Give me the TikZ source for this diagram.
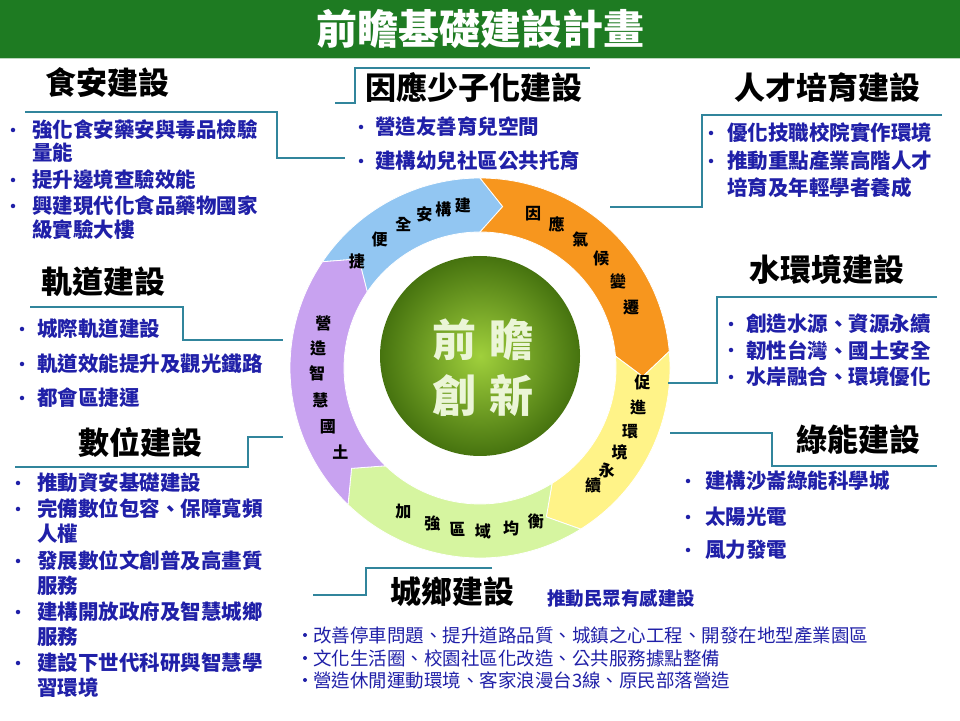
\documentclass[tikz,border=0pt]{standalone}
\usepackage{fontspec}
\setmainfont{Noto Sans CJK TC}
\definecolor{hdr}{HTML}{1E7B22}
\definecolor{txtb}{HTML}{2020A8}
\definecolor{ln}{HTML}{31859C}
\definecolor{cblue}{HTML}{92C6F2}
\definecolor{corange}{HTML}{F7961E}
\definecolor{cyellow}{HTML}{FFF388}
\definecolor{cgreen}{HTML}{D6F5A0}
\definecolor{cpurple}{HTML}{C8A2F0}
\tikzset{
 ttl/.style={font=\fontsize{31}{34}\selectfont\bfseries,text=black,inner sep=0pt},
 itm/.style={font=\fontsize{20.5}{23}\selectfont\bfseries,text=txtb,anchor=west,inner sep=0pt},
 bul/.style={circle,fill=txtb,inner sep=0pt,minimum size=4.5pt},
 citm/.style={font=\fontsize{18.5}{21}\selectfont,text=txtb,anchor=west,inner sep=0pt},
 ringch/.style={font=\fontsize{16}{18}\selectfont\bfseries,text=black,inner sep=0pt},
 conn/.style={draw=ln,line width=1.1pt},
}
\newcommand\ringseg[3]{%
 \fill[#3,draw=white,line width=0.8pt] (#1:190pt) arc[start angle=#1,end angle=#2,radius=190pt] -- (#2-8:163pt) -- (#2:136pt) arc[start angle=#2,end angle=#1,radius=136pt] -- (#1-8:163pt) -- cycle;}
\begin{document}
\begin{tikzpicture}[x=1pt,y=1pt]
\useasboundingbox (0,0) rectangle (960,720);
\fill[white] (0,0) rectangle (960,720);
% header
\fill[hdr] (0,662) rectangle (960,720);
\draw[white!70!hdr,line width=1pt] (0,661) -- (960,661);
\node[font=\fontsize{41}{44}\selectfont\bfseries,text=white] (title) at (480,691) {前瞻基礎建設計畫};
% ring
\begin{scope}[shift={(480,352)}]
 \ringseg{146}{90}{cblue}
 \ringseg{90}{5}{corange}
 \ringseg{5}{-58}{cyellow}
 \ringseg{-58}{-134}{cgreen}
 \ringseg{-134}{-214}{cpurple}
 \shade[inner color={rgb,255:red,160;green,208;blue,60}, outer color={rgb,255:red,70;green,115;blue,15}] (0,12) circle (100pt);
 \node[font=\fontsize{44}{48}\selectfont\bfseries,text={rgb,255:red,235;green,245;blue,215}] (c1) at (3,28) {前\hspace{14pt}瞻};
 \node[font=\fontsize{44}{48}\selectfont\bfseries,text={rgb,255:red,235;green,245;blue,215}] (c2) at (3,-27) {創\hspace{14pt}新};
 \foreach \a/\c [count=\i] in {139/捷,128/便,118/全,110/安,103/構,96/建,71/因,62/應,52/氣,42/候,32/變,22/遷,-5/促,-14/進,-23/環,-31/境,-39/永,-46/續,-118/加,-107/強,-98/區,-89/域,-79/均,-70/衡,164/營,173/造,182/智,191.5/慧,201/國,211/土}
   \node[ringch] (rc\i) at (\a:163pt) {\c};
\end{scope}
% titles
\node[ttl] (t1) at (107,637) {食安建設};
\node[ttl] (t2) at (474,632) {因應少子化建設};
\node[ttl] (t3) at (827,632) {人才培育建設};
\node[ttl] (t4) at (103,438) {軌道建設};
\node[ttl] (t5) at (827,450) {水環境建設};
\node[ttl] (t6) at (140,277) {數位建設};
\node[ttl] (t7) at (858,280) {綠能建設};
\node[ttl] (t8) at (452,128) {城鄉建設};
\node[font=\fontsize{18.5}{21}\selectfont\bfseries,text=txtb] (t8b) at (621,122) {推動民眾有感建設};
% connectors
\coordinate (a1) at (25,608); \coordinate (a2) at (277,608); \coordinate (a3) at (277,562); \coordinate (a4) at (345,562);
\draw[conn] (a1) -- (a2) -- (a3) -- (a4);
\coordinate (b1) at (335,617); \coordinate (b2) at (355,617); \coordinate (b3) at (355,652); \coordinate (b4) at (590,652);
\draw[conn] (b1) -- (b2) -- (b3) -- (b4);
\coordinate (d1) at (942,605); \coordinate (d2) at (702,605); \coordinate (d3) at (702,513); \coordinate (d4) at (610,513);
\draw[conn] (d1) -- (d2) -- (d3) -- (d4);
\coordinate (e1) at (937,423); \coordinate (e2) at (717,423); \coordinate (e3) at (717,337); \coordinate (e4) at (668,337);
\draw[conn] (e1) -- (e2) -- (e3) -- (e4);
\coordinate (f1) at (670,287); \coordinate (f2) at (772,287); \coordinate (f3) at (772,254); \coordinate (f4) at (937,254);
\draw[conn] (f1) -- (f2) -- (f3) -- (f4);
\coordinate (g1) at (30,413); \coordinate (g2) at (183,413); \coordinate (g3) at (183,380); \coordinate (g4) at (283,380);
\draw[conn] (g1) -- (g2) -- (g3) -- (g4);
\coordinate (h1) at (283,283); \coordinate (h2) at (248,283); \coordinate (h3) at (248,253); \coordinate (h4) at (15,253);
\draw[conn] (h1) -- (h2) -- (h3) -- (h4);
\coordinate (k1) at (492,152); \coordinate (k2) at (366,152); \coordinate (k3) at (366,125); \coordinate (k4) at (313,125);
\draw[conn] (k1) -- (k2) -- (k3) -- (k4);
% food safety
\node[bul] (p1b) at (13,590) {}; \node[itm] (p1) at (32,590) {強化食安藥安與毒品檢驗};
\node[itm] (p1c) at (32,567) {量能};
\node[bul] (p2b) at (13,540) {}; \node[itm] (p2) at (32,540) {提升邊境查驗效能};
\node[bul] (p3b) at (13,514) {}; \node[itm] (p3) at (32,514) {興建現代化食品藥物國家};
\node[itm] (p3c) at (32,490) {級實驗大樓};
% child
\node[bul] (q1b) at (361,593) {}; \node[itm] (q1) at (375,593) {營造友善育兒空間};
\node[bul] (q2b) at (361,559) {}; \node[itm] (q2) at (375,559) {建構幼兒社區公共托育};
% talent
\node[bul] (r1b) at (711,587) {}; \node[itm] (r1) at (727,587) {優化技職校院實作環境};
\node[bul] (r2b) at (711,559) {}; \node[itm] (r2) at (727,559) {推動重點產業高階人才};
\node[itm] (r2c) at (727,532) {培育及年輕學者養成};
% water
\node[bul] (s1b) at (731,396) {}; \node[itm] (s1) at (746,396) {創造水源、資源永續};
\node[bul] (s2b) at (731,370) {}; \node[itm] (s2) at (746,370) {韌性台灣、國土安全};
\node[bul] (s3b) at (731,343) {}; \node[itm] (s3) at (746,343) {水岸融合、環境優化};
% green energy
\node[bul] (u1b) at (688,239) {}; \node[itm] (u1) at (705,239) {建構沙崙綠能科學城};
\node[bul] (u2b) at (688,203) {}; \node[itm] (u2) at (705,203) {太陽光電};
\node[bul] (u3b) at (688,170) {}; \node[itm] (u3) at (705,170) {風力發電};
% rail
\node[bul] (v1b) at (22,391) {}; \node[itm] (v1) at (37,391) {城際軌道建設};
\node[bul] (v2b) at (22,356) {}; \node[itm] (v2) at (37,356) {軌道效能提升及觀光鐵路};
\node[bul] (v3b) at (22,322) {}; \node[itm] (v3) at (37,322) {都會區捷運};
% digital
\node[bul] (w1b) at (18,237) {}; \node[itm] (w1) at (37,237) {推動資安基礎建設};
\node[bul] (w2b) at (18,211) {}; \node[itm] (w2) at (37,211) {完備數位包容、保障寬頻};
\node[itm] (w2c) at (37,186) {人權};
\node[bul] (w3b) at (18,159) {}; \node[itm] (w3) at (37,159) {發展數位文創普及高畫質};
\node[itm] (w3c) at (37,134) {服務};
\node[bul] (w4b) at (18,108) {}; \node[itm] (w4) at (37,108) {建構開放政府及智慧城鄉};
\node[itm] (w4c) at (37,83) {服務};
\node[bul] (w5b) at (18,57) {}; \node[itm] (w5) at (37,57) {建設下世代科研與智慧學};
\node[itm] (w5c) at (37,32) {習環境};
% urban-rural
\node[bul,minimum size=4pt] (x1b) at (305,85) {}; \node[citm] (x1) at (313,85) {改善停車問題、提升道路品質、城鎮之心工程、開發在地型產業園區};
\node[bul,minimum size=4pt] (x2b) at (305,62) {}; \node[citm] (x2) at (313,62) {文化生活圈、校園社區化改造、公共服務據點整備};
\node[bul,minimum size=4pt] (x3b) at (305,40) {}; \node[citm] (x3) at (313,40) {營造休閒運動環境、客家浪漫台3線、原民部落營造};
\end{tikzpicture}
\end{document}
